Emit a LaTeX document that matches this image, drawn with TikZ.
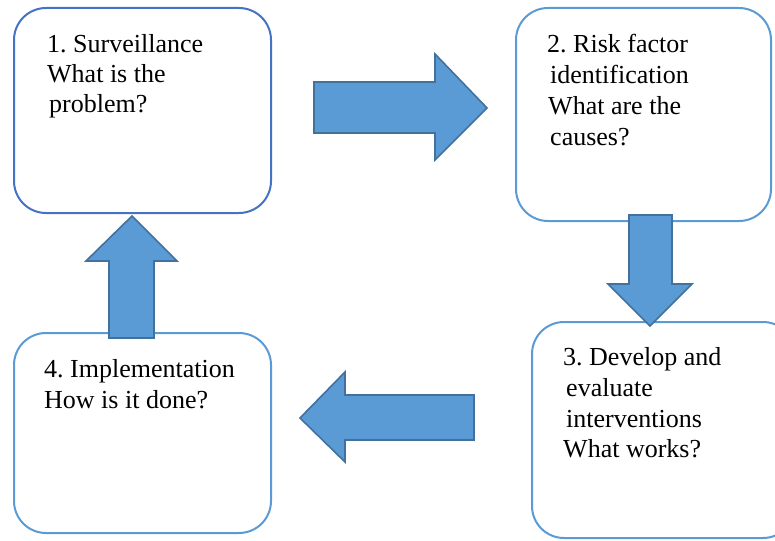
\documentclass[tikz,border=0pt]{standalone}
\usepackage{fontspec}
\setmainfont{Liberation Serif}
\frenchspacing
\definecolor{boxA}{HTML}{4472C4}
\definecolor{boxB}{HTML}{5B9BD5}
\definecolor{arrFill}{HTML}{5B9BD5}
\definecolor{arrLine}{HTML}{41719C}
\tikzset{
  card/.style={draw=boxB, line width=2pt, rounded corners=32pt, fill=white},
  blockarrow/.style={fill=arrFill, draw=arrLine, line width=1.6pt, line join=miter},
  txt/.style={anchor=base west, inner sep=0pt, font=\fontsize{26}{30}\selectfont, text=black}
}
\begin{document}
\begin{tikzpicture}[x=1pt, y=-1pt]
\useasboundingbox (0,0) rectangle (775,540);
\clip (0,0) rectangle (775,540);
% boxes
\draw[card, draw=boxA] (14,8) rectangle (271,213);
\draw[card] (516,8) rectangle (771,221);
\draw[card] (532,322) rectangle (795,538);
\draw[card] (14,333) rectangle (271,533);
% block arrows
\draw[blockarrow] (314,82) -- (435,82) -- (435,54) -- (487,108) -- (435,160) -- (435,133) -- (314,133) -- cycle;
\draw[blockarrow] (629,215) -- (672,215) -- (672,284) -- (692,284) -- (650,326) -- (608,284) -- (629,284) -- cycle;
\draw[blockarrow] (474,395) -- (345,395) -- (345,372) -- (300,418) -- (345,462) -- (345,440) -- (474,440) -- cycle;
\draw[blockarrow] (109,338) -- (109,261) -- (86,261) -- (132,216) -- (177,261) -- (154,261) -- (154,338) -- cycle;
% texts
\node[txt] (a1) at (47,53) {1. Surveillance};
\node[txt] (a2) at (47,83) {What is the};
\node[txt] (a3) at (49,113) {problem?};
\node[txt] (b1) at (547,53) {2. Risk factor};
\node[txt] (b2) at (550,84) {identification};
\node[txt] (b3) at (548,115) {What are the};
\node[txt] (b4) at (550,146) {causes?};
\node[txt] (c1) at (563,365) {3. Develop and};
\node[txt] (c2) at (566,396) {evaluate};
\node[txt] (c3) at (566,427) {interventions};
\node[txt] (c4) at (563,457) {What works?};
\node[txt] (d1) at (44,377) {4. Implementation};
\node[txt] (d2) at (44,408) {How is it done?};
\end{tikzpicture}
\end{document}
